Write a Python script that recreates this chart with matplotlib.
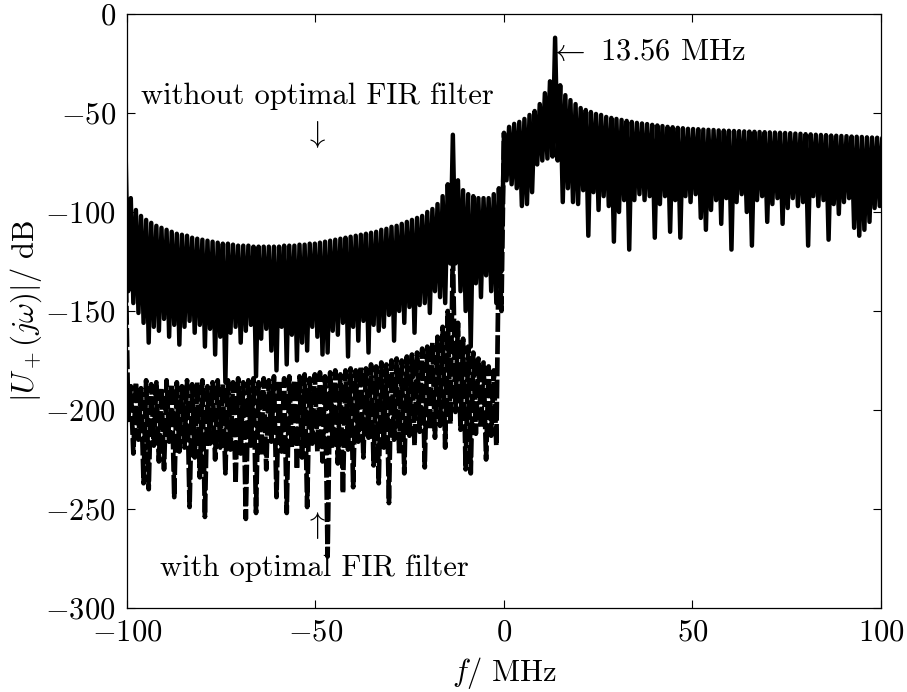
import numpy as np
import matplotlib.pyplot as plt

plt.rcParams['font.family'] = 'serif'
plt.rcParams['font.serif'] = ['cmr10']
plt.rcParams['mathtext.fontset'] = 'cm'
plt.rcParams['axes.formatter.use_mathtext'] = True

# half-lobe spacing in MHz, chosen so that +-13.56 MHz falls on a lobe peak
df = 13.56 / 20

# without optimal FIR filter: lobe peaks (f = -100.34 ... 100.34) and nulls in dB
peaks_raw = [-72, -93, -99, -102, -104, -105.5, -107, -108, -109, -110,
             -111, -111.5, -112, -113, -113.5, -114, -114.5, -115, -115.5, -116,
             -116, -116.5, -117, -117, -117, -117.5, -117.5, -117.5, -117.5, -117.5,
             -117.5, -117, -117, -117, -116.5, -116.5, -116, -116, -115.5, -115,
             -114.5, -114, -113.5, -113, -112.5, -112, -111.5, -111, -110.5, -110,
             -109, -108.5, -107.5, -107, -106, -105, -104, -103, -102, -100,
             -98.5, -96, -92, -86, -61, -84, -89, -91, -92, -93,
             -93, -93, -91, -88, -60, -57, -55.5, -54.5, -53, -51,
             -49, -45.5, -40, -34, -12, -36, -41, -43.5, -45.5, -47.5,
             -48.5, -49.5, -50.5, -51, -52, -52.5, -53, -53.5, -54, -54.5,
             -55, -55.3, -55.6, -56, -56.3, -56.6, -57, -57.2, -57.5, -57.7,
             -58, -58.1, -58.2, -58.4, -58.5, -58.6, -58.8, -58.9, -59, -59.1,
             -59.2, -59.3, -59.4, -59.5, -59.6, -59.7, -59.8, -59.9, -60, -60.1,
             -60.2, -60.4, -60.5, -60.7, -60.8, -61, -61.1, -61.2, -61.4, -61.5,
             -61.6, -61.7, -61.9, -62, -62.1, -62.3, -62.4, -62.5, -62.6]
nulls_raw = [-140, -146, -151, -156, -166, -158, -160, -154, -163, -157,
             -167, -158, -155, -161, -157, -168, -159, -172, -163, -186,
             -161, -158, -166, -160, -157, -183, -164, -159, -170, -180,
             -158, -177, -162, -175, -166, -170, -158, -163, -172, -171,
             -160, -162, -156, -173, -158, -165, -155, -171, -157, -160,
             -158, -152, -165, -150, -156, -148, -161, -147, -146, -151,
             -140, -143, -146, -126, -126, -140, -150, -168, -136, -143,
             -132, -140, -146, -130, -84, -86, -88, -97, -96, -90,
             -76, -74, -73, -72, -74, -95, -88, -95, -96, -89,
             -112, -90, -99, -92, -97, -115, -100, -94, -119, -94,
             -91, -94, -92, -113, -96, -92, -110, -94, -113, -92,
             -95, -91, -103, -109, -99, -94, -106, -93, -119, -95,
             -91, -100, -117, -94, -92, -105, -96, -93, -106, -98,
             -93, -97, -95, -117, -92, -97, -94, -114, -96, -101,
             -95, -93, -108, -112, -109, -105, -98, -97]

# with optimal FIR filter: only f <= 0 differs (f = -100.34 ... 0)
peaks_fir = [-125, -188, -186, -189, -185, -187, -186, -189, -185, -187,
             -186, -188, -185, -187, -186, -185, -188, -186, -185, -187,
             -185, -186, -184, -186, -185, -184, -186, -184, -185, -183,
             -185, -184, -183, -185, -183, -182, -184, -182, -181, -183,
             -181, -180, -182, -180, -179, -180, -178, -179, -177, -178,
             -176, -177, -175, -174, -175, -173, -172, -171, -169, -168,
             -166, -163, -158, -150, -118, -156, -164, -168, -171, -174,
             -176, -178, -180, -115, -60]
nulls_fir = [-205, -222, -215, -237, -240, -218, -226, -230, -216, -244,
             -221, -219, -249, -224, -234, -254, -217, -225, -219, -232,
             -220, -237, -222, -255, -218, -252, -223, -230, -216, -244,
             -221, -252, -219, -230, -224, -249, -217, -221, -226, -274,
             -218, -227, -242, -220, -239, -216, -224, -214, -228, -237,
             -219, -247, -215, -222, -232, -213, -218, -211, -229, -210,
             -214, -208, -219, -207, -201, -210, -230, -232, -212, -209,
             -225, -213, -218, -150]


def interleave(p, n):
    out = np.empty(len(p) + len(n))
    out[0::2] = p
    out[1::2] = n
    return out


u_raw = interleave(peaks_raw, nulls_raw)
f_raw = (np.arange(len(u_raw)) - 148) * df
u_fir = interleave(peaks_fir, nulls_fir)
f_fir = (np.arange(len(u_fir)) - 148) * df

fig = plt.figure(figsize=(9.07, 6.92), dpi=100)
ax = fig.add_axes([0.1400, 0.1214, 0.8313, 0.8584])

ax.plot(f_raw, u_raw, color='k', lw=3.2,
        solid_joinstyle='round', solid_capstyle='round')
ax.plot(f_fir, u_fir, color='k', lw=3.4, dashes=(4.0, 0.7),
        dash_capstyle='butt', dash_joinstyle='round')

ax.set_xlim(-100, 100)
ax.set_ylim(-300, 0)
ax.set_xticks([-100, -50, 0, 50, 100])
ax.set_yticks([-300, -250, -200, -150, -100, -50, 0])
ax.tick_params(direction='in', length=5.8, width=0.8, top=True, right=True,
               labelsize=22, pad=8)
for s in ax.spines.values():
    s.set_linewidth(0.9)

ax.set_xlabel(r'$f/\ \mathrm{MHz}$', fontsize=22, labelpad=6)
ax.set_ylabel(r'$|U_+(j\omega)|/\ \mathrm{dB}$', fontsize=22, labelpad=1)

ax.text(-49.5, -41.5, 'without optimal FIR filter', ha='center', va='center', fontsize=22)
ax.text(-50, -61, r'$\downarrow$', ha='center', va='center', fontsize=22)
ax.text(11.9, -19.5, r'$\leftarrow$ 13.56 MHz', ha='left', va='center', fontsize=22)
ax.text(-50, -258.5, r'$\uparrow$', ha='center', va='center', fontsize=22)
ax.text(-50.3, -280, 'with optimal FIR filter', ha='center', va='center', fontsize=22)

fig.savefig('out.png', dpi=100)
